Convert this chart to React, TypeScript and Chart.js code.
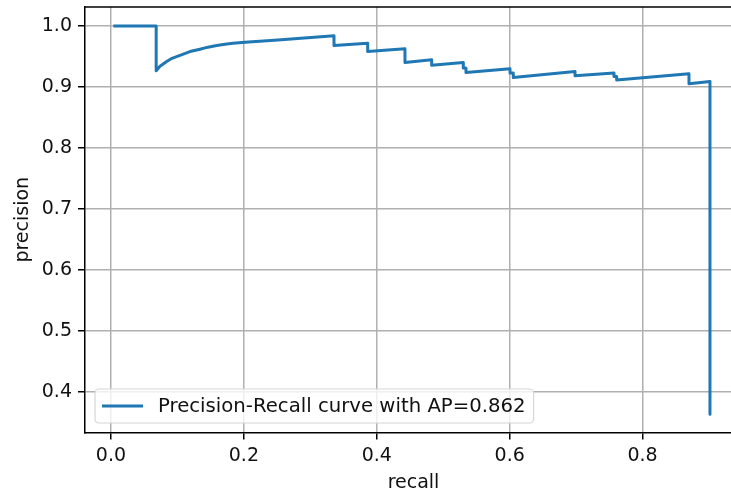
import React, { useEffect, useRef } from 'react';
import { Chart, registerables } from 'chart.js';

Chart.register(...registerables);

// Data
const recall = [
  0.0035, 0.068, 0.068, 0.0737, 0.0838, 0.0918, 0.1088, 0.1189, 0.1339, 0.146, 0.1591, 0.1716,
  0.1836, 0.2017, 0.2513, 0.301, 0.3356,
  0.3356, 0.3863, 0.3863, 0.4424, 0.4424, 0.4826, 0.4826, 0.5302, 0.5302, 0.5342, 0.5342,
  0.6005, 0.6005, 0.6054, 0.6054, 0.6983, 0.6983, 0.757, 0.757, 0.761, 0.761, 0.8698, 0.8698,
  0.9014, 0.9014,
];
const precision = [
  1.0, 1.0, 0.9265, 0.9338, 0.9417, 0.9469, 0.9538, 0.958, 0.9619, 0.9652, 0.9678, 0.97,
  0.9717, 0.9734, 0.9771, 0.9809, 0.9837,
  0.9678, 0.9717, 0.958, 0.9624, 0.94, 0.9444, 0.9357, 0.94, 0.9309, 0.9309, 0.9237,
  0.9297, 0.9227, 0.9227, 0.9155, 0.9253, 0.9183, 0.9227, 0.917, 0.917, 0.9113, 0.9216, 0.9052,
  0.909, 0.3636,
];
const xTicks = [0.0, 0.2, 0.4, 0.6, 0.8];
const yTicks = [0.4, 0.5, 0.6, 0.7, 0.8, 0.9, 1.0];
const seriesLabel = 'Precision-Recall curve with AP=0.862';
const xTitle = 'recall';
const yTitle = 'precision';

const FONT = "'DejaVu Sans', sans-serif";
const LINE_COLOR = '#1f77b4';

const overlayPlugin = {
  id: 'overlay',
  afterDraw(chart: any) {
    const { ctx, chartArea } = chart;
    ctx.save();
    // top spine
    ctx.strokeStyle = '#000';
    ctx.lineWidth = 1.5;
    ctx.beginPath();
    ctx.moveTo(chartArea.left, chartArea.top);
    ctx.lineTo(chartArea.right, chartArea.top);
    ctx.stroke();
    // right spine (off the visible area, like the reference)
    ctx.beginPath();
    ctx.moveTo(chartArea.right, chartArea.top);
    ctx.lineTo(chartArea.right, chartArea.bottom);
    ctx.stroke();

    // legend (lower left)
    ctx.font = `19.7px ${FONT}`;
    const tw = ctx.measureText(seriesLabel).width;
    const boxLeft = chartArea.left + 10;
    const boxBottom = chartArea.bottom - 9.5;
    const boxTop = boxBottom - 34;
    const lineX0 = boxLeft + 7;
    const lineX1 = lineX0 + 41;
    const textX = lineX1 + 15;
    const boxRight = textX + tw + 8;
    const r = 4;
    ctx.beginPath();
    ctx.moveTo(boxLeft + r, boxTop);
    ctx.lineTo(boxRight - r, boxTop);
    ctx.arcTo(boxRight, boxTop, boxRight, boxTop + r, r);
    ctx.lineTo(boxRight, boxBottom - r);
    ctx.arcTo(boxRight, boxBottom, boxRight - r, boxBottom, r);
    ctx.lineTo(boxLeft + r, boxBottom);
    ctx.arcTo(boxLeft, boxBottom, boxLeft, boxBottom - r, r);
    ctx.lineTo(boxLeft, boxTop + r);
    ctx.arcTo(boxLeft, boxTop, boxLeft + r, boxTop, r);
    ctx.closePath();
    ctx.fillStyle = 'rgba(255,255,255,0.8)';
    ctx.fill();
    ctx.strokeStyle = '#d6d6d6';
    ctx.lineWidth = 1.2;
    ctx.stroke();

    const midY = (boxTop + boxBottom) / 2;
    ctx.strokeStyle = LINE_COLOR;
    ctx.lineWidth = 3;
    ctx.beginPath();
    ctx.moveTo(lineX0, midY);
    ctx.lineTo(lineX1, midY);
    ctx.stroke();

    ctx.fillStyle = '#111';
    ctx.textBaseline = 'middle';
    ctx.textAlign = 'left';
    ctx.fillText(seriesLabel, textX, midY + 0.5);
    ctx.restore();
  },
};

export default function App() {
  const canvasRef = useRef<HTMLCanvasElement | null>(null);

  useEffect(() => {
    const canvas = canvasRef.current;
    if (!canvas) return;
    const points = recall.map((x, i) => ({ x, y: precision[i] }));
    const chart = new Chart(canvas, {
      type: 'line',
      data: {
        datasets: [
          {
            label: seriesLabel,
            data: points,
            borderColor: LINE_COLOR,
            backgroundColor: LINE_COLOR,
            borderWidth: 3,
            pointRadius: 0,
            tension: 0,
            fill: false,
            borderJoinStyle: 'round',
            borderCapStyle: 'butt',
          },
        ],
      },
      options: {
        responsive: false,
        animation: false,
        layout: { padding: { top: 7, left: 0, right: 3, bottom: 0 } },
        plugins: {
          legend: { display: false },
          tooltip: { enabled: false },
        },
        scales: {
          x: {
            type: 'linear',
            min: -0.0391,
            max: 0.9496,
            afterBuildTicks: (scale: any) => {
              scale.ticks = xTicks.map((v) => ({ value: v }));
            },
            afterFit: (scale: any) => {
              scale.height = 60.5;
              scale.paddingLeft = 0;
              scale.paddingRight = 0;
            },
            grid: {
              color: '#b0b0b0',
              lineWidth: 1.5,
              drawTicks: true,
              tickLength: 7,
              tickColor: '#000',
              tickWidth: 1.5,
            },
            border: { display: true, color: '#000', width: 1.5 },
            ticks: {
              color: '#111',
              font: { family: FONT, size: 19 },
              padding: 5,
              maxRotation: 0,
              autoSkip: false,
              callback: (v: any) => Number(v).toFixed(1),
            },
            title: {
              display: true,
              text: xTitle,
              color: '#111',
              font: { family: FONT, size: 19 },
              padding: { top: 0, bottom: -1 },
            },
          },
          y: {
            type: 'linear',
            min: 0.3338,
            max: 1.031,
            afterBuildTicks: (scale: any) => {
              scale.ticks = yTicks.map((v) => ({ value: v }));
            },
            afterFit: (scale: any) => {
              scale.width = 85;
              scale.paddingTop = 0;
              scale.paddingBottom = 0;
            },
            grid: {
              color: '#b0b0b0',
              lineWidth: 1.5,
              drawTicks: true,
              tickLength: 7,
              tickColor: '#000',
              tickWidth: 1.5,
            },
            border: { display: true, color: '#000', width: 1.5 },
            ticks: {
              color: '#111',
              font: { family: FONT, size: 19 },
              padding: 6,
              autoSkip: false,
              callback: (v: any) => Number(v).toFixed(1),
            },
            title: {
              display: true,
              text: yTitle,
              color: '#111',
              font: { family: FONT, size: 19 },
              padding: { top: 12, bottom: 0 },
            },
          },
        },
      },
      plugins: [overlayPlugin],
    });
    return () => chart.destroy();
  }, []);

  return (
    <div
      style={{
        position: 'absolute',
        left: 0,
        top: 0,
        width: 731,
        height: 493,
        overflow: 'hidden',
        background: '#fff',
      }}
    >
      <canvas ref={canvasRef} width={745} height={493} style={{ display: 'block' }} />
    </div>
  );
}
